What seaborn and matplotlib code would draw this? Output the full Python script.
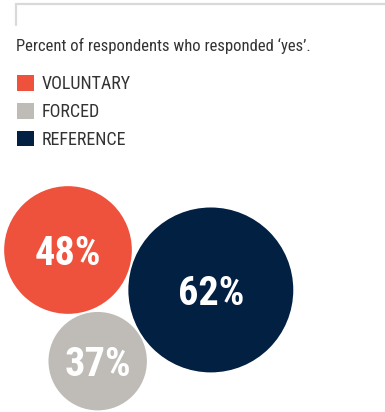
import numpy as np
import pandas as pd
import matplotlib
matplotlib.use("Agg")
import matplotlib.pyplot as plt
from matplotlib.patches import Patch
from matplotlib.lines import Line2D
import seaborn as sns

# データ
categories = ["VOLUNTARY", "FORCED", "REFERENCE"]
values = [48, 37, 62]
labels = ["48%", "37%", "62%"]
colors = ["#EF523C", "#BFBCB8", "#022042"]
subtitle = "Percent of respondents who responded \u2018yes\u2019."

sns.set_style("white")
plt.rcParams["font.family"] = ["Roboto Condensed", "DejaVu Sans"]
plt.rcParams["font.stretch"] = "condensed"

W, H, DPI = 385, 412, 100
PX_PER_UNIT = 1.33   # bubble radius (px) per percent point
GAP = 2              # gap between bubbles (px)


def pack_bubbles(radii, anchor, angle):
    """Three mutually tangent bubbles: 0 at anchor, 2 at angle, 1 below both."""
    r0, r1, r2 = radii
    c0 = np.array(anchor, float)
    d02 = r0 + r2 + GAP
    c2 = c0 + d02 * np.array([np.cos(angle), np.sin(angle)])
    d01 = r0 + r1 + GAP
    d21 = r2 + r1 + GAP
    D = np.linalg.norm(c2 - c0)
    e = (c2 - c0) / D
    a = (d01**2 - d21**2 + D**2) / (2 * D)
    h = np.sqrt(d01**2 - a**2)
    perp = np.array([-e[1], e[0]])
    c1 = c0 + a * e + h * perp
    return np.vstack([c0, c1, c2])


radii = np.array(values) * PX_PER_UNIT
centers = pack_bubbles(radii, anchor=(68, 250), angle=np.arctan2(40, 143))

df = pd.DataFrame({
    "category": categories,
    "value": values,
    "x": centers[:, 0],
    "y": centers[:, 1],
})

fig = plt.figure(figsize=(W / DPI, H / DPI), dpi=DPI)
ax = fig.add_axes([0, 0, 1, 1])
ax.set_xlim(0, W)
ax.set_ylim(H, 0)
ax.axis("off")

# バブル (直径をポイント単位に変換)
sizes = (2 * radii * 72 / DPI) ** 2
sns.scatterplot(data=df, x="x", y="y", hue="category",
                palette=dict(zip(categories, colors)), s=sizes,
                linewidth=0, legend=False, ax=ax)

for (_, row), lab in zip(df.iterrows(), labels):
    ax.text(row["x"], row["y"], lab, ha="center", va="center_baseline",
            color="white", fontsize=29, fontweight="bold")

# 上部の罫線
fig.add_artist(Line2D([16 / W, 16 / W, 1], [1 - 25 / H, 1 - 4 / H, 1 - 4 / H],
                      color="#d9d9d9", lw=1.6, solid_joinstyle="miter"))

ax.text(16, 46, subtitle, ha="left", va="center", fontsize=12, color="#333333")

handles = [Patch(facecolor=c, edgecolor="none") for c in colors]
ax.legend(handles, categories, loc="upper left", bbox_to_anchor=(17, 75),
          bbox_transform=ax.transData, frameon=False, fontsize=13,
          handlelength=0.95, handleheight=0.95, handletextpad=0.4,
          labelspacing=0.55, borderpad=0, borderaxespad=0, labelcolor="#333333")

fig.savefig("out.png", dpi=DPI)
